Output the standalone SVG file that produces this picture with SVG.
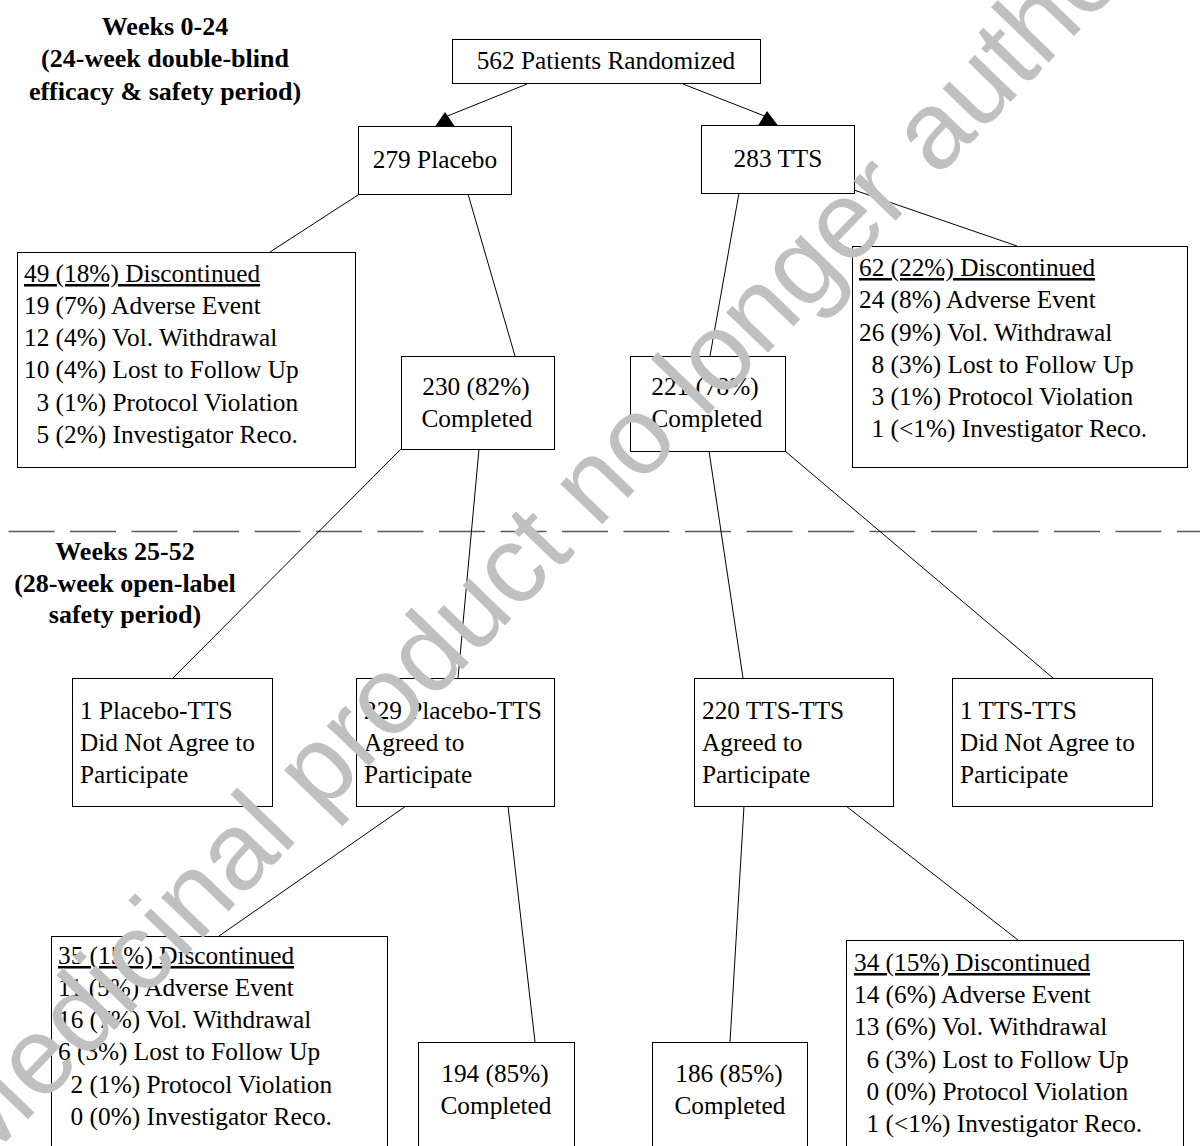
<svg xmlns="http://www.w3.org/2000/svg" width="1200" height="1146" viewBox="0 0 1200 1146">
<style>
.box{fill:#fff;stroke:#000;stroke-width:1}
.t{font-family:"Liberation Serif","Times New Roman",serif;font-size:25.3px;fill:#000}
.c{text-anchor:middle}
.b{font-family:"Liberation Serif","Times New Roman",serif;font-size:26px;font-weight:bold;text-anchor:middle;fill:#000}
.u{text-decoration:underline}
.ln{stroke:#000;stroke-width:1;fill:none}
.dash{stroke:#595959;stroke-width:1.5;stroke-dasharray:46 15.5;fill:none}
.ah{fill:#000}
.wm{font-family:"Liberation Sans",Arial,sans-serif;font-size:110px;fill:#c0c0c0}
</style>
<rect width="1200" height="1146" fill="#fff"/>
<g id="labels">
<text class="b" x="165" y="35">Weeks 0-24</text>
<text class="b" x="165" y="67">(24-week double-blind</text>
<text class="b" x="165" y="99.5">efficacy &amp; safety period)</text>
<text class="b" x="125" y="560">Weeks 25-52</text>
<text class="b" x="125" y="592">(28-week open-label</text>
<text class="b" x="125" y="623">safety period)</text>
</g>
<line class="dash" x1="8.5" y1="531.5" x2="1200" y2="531.5"/>
<g id="connectors">
<path class="ln" d="M527,84 L445,117"/>
<path class="ln" d="M683,84 L767,117"/>
<polygon class="ah" points="445,112 435,126.5 455,126.5"/>
<polygon class="ah" points="767,111 758,125.5 778,125.5"/>
<path class="ln" d="M358,195 L270,252"/>
<path class="ln" d="M468,194 L515,356"/>
<path class="ln" d="M739,193 L710,356"/>
<path class="ln" d="M854,190 L1017,246"/>
<path class="ln" d="M401,449 L173,678"/>
<path class="ln" d="M479,449 L458,678"/>
<path class="ln" d="M709,451 L743,678"/>
<path class="ln" d="M785,451 L1053,678"/>
<path class="ln" d="M406,806 L219,936"/>
<path class="ln" d="M508,806 L535,1042"/>
<path class="ln" d="M744,806 L730,1042"/>
<path class="ln" d="M846,806 L1018,940"/>
</g>
<g id="n_randomized">
<rect class="box" x="452.5" y="39.5" width="308" height="44"/>
<text class="t c" x="606" y="69">562 Patients Randomized</text>
</g>
<g id="n_placebo">
<rect class="box" x="358.5" y="126.5" width="153" height="68"/>
<text class="t c" x="435" y="168">279 Placebo</text>
</g>
<g id="n_tts">
<rect class="box" x="701.5" y="125.5" width="153" height="68"/>
<text class="t c" x="778" y="167">283 TTS</text>
</g>
<g id="n_disc_placebo">
<rect class="box" x="17.5" y="252.5" width="338" height="215"/>
<text class="t u" x="24" y="282">49 (18%) Discontinued</text>
<text class="t" x="24" y="314">19 (7%) Adverse Event</text>
<text class="t" x="24" y="346">12 (4%) Vol. Withdrawal</text>
<text class="t" x="24" y="378">10 (4%) Lost to Follow Up</text>
<text class="t" x="36.6" y="411">3 (1%) Protocol Violation</text>
<text class="t" x="36.6" y="443">5 (2%) Investigator Reco.</text>
</g>
<g id="n_comp_placebo">
<rect class="box" x="401.5" y="356.5" width="153" height="93"/>
<text class="t c" x="476" y="395">230 (82%)</text>
<text class="t c" x="477" y="427">Completed</text>
</g>
<g id="n_comp_tts">
<rect class="box" x="630.5" y="356.5" width="155" height="95"/>
<text class="t c" x="705" y="395">221 (78%)</text>
<text class="t c" x="707" y="427">Completed</text>
</g>
<g id="n_disc_tts">
<rect class="box" x="852.5" y="246.5" width="335" height="221"/>
<text class="t u" x="859" y="276">62 (22%) Discontinued</text>
<text class="t" x="859" y="308">24 (8%) Adverse Event</text>
<text class="t" x="859" y="341">26 (9%) Vol. Withdrawal</text>
<text class="t" x="871.6" y="373">8 (3%) Lost to Follow Up</text>
<text class="t" x="871.6" y="405">3 (1%) Protocol Violation</text>
<text class="t" x="871.6" y="437">1 (&lt;1%) Investigator Reco.</text>
</g>
<g id="n_pt_notagree">
<rect class="box" x="72.5" y="678.5" width="200" height="128"/>
<text class="t" x="80" y="719">1 Placebo-TTS</text>
<text class="t" x="80" y="751">Did Not Agree to</text>
<text class="t" x="80" y="783">Participate</text>
</g>
<g id="n_pt_agree">
<rect class="box" x="356.5" y="678.5" width="198" height="128"/>
<text class="t" x="364" y="719">229 Placebo-TTS</text>
<text class="t" x="364" y="751">Agreed to</text>
<text class="t" x="364" y="783">Participate</text>
</g>
<g id="n_tt_agree">
<rect class="box" x="694.5" y="678.5" width="199" height="128"/>
<text class="t" x="702" y="719">220 TTS-TTS</text>
<text class="t" x="702" y="751">Agreed to</text>
<text class="t" x="702" y="783">Participate</text>
</g>
<g id="n_tt_notagree">
<rect class="box" x="952.5" y="678.5" width="200" height="128"/>
<text class="t" x="960" y="719">1 TTS-TTS</text>
<text class="t" x="960" y="751">Did Not Agree to</text>
<text class="t" x="960" y="783">Participate</text>
</g>
<g id="n_disc_pt">
<rect class="box" x="51.5" y="936.5" width="336" height="230"/>
<text class="t u" x="58" y="964">35 (15%) Discontinued</text>
<text class="t" x="58" y="996">11 (5%) Adverse Event</text>
<text class="t" x="58" y="1028">16 (7%) Vol. Withdrawal</text>
<text class="t" x="58" y="1060">6 (3%) Lost to Follow Up</text>
<text class="t" x="70.6" y="1093">2 (1%) Protocol Violation</text>
<text class="t" x="70.6" y="1125">0 (0%) Investigator Reco.</text>
</g>
<g id="n_comp_pt">
<rect class="box" x="418.5" y="1042.5" width="156" height="120"/>
<text class="t c" x="495" y="1082">194 (85%)</text>
<text class="t c" x="496" y="1114">Completed</text>
</g>
<g id="n_comp_tt">
<rect class="box" x="652.5" y="1042.5" width="155" height="120"/>
<text class="t c" x="729" y="1082">186 (85%)</text>
<text class="t c" x="730" y="1114">Completed</text>
</g>
<g id="n_disc_tt">
<rect class="box" x="846.5" y="940.5" width="337" height="230"/>
<text class="t u" x="854" y="971">34 (15%) Discontinued</text>
<text class="t" x="854" y="1003">14 (6%) Adverse Event</text>
<text class="t" x="854" y="1035">13 (6%) Vol. Withdrawal</text>
<text class="t" x="866.6" y="1068">6 (3%) Lost to Follow Up</text>
<text class="t" x="866.6" y="1100">0 (0%) Protocol Violation</text>
<text class="t" x="866.6" y="1132">1 (&lt;1%) Investigator Reco.</text>
</g>
<g id="watermark">
<text class="wm" transform="translate(-23,1172) rotate(-46)">Medicinal product no longer authorised</text>
</g>
</svg>
